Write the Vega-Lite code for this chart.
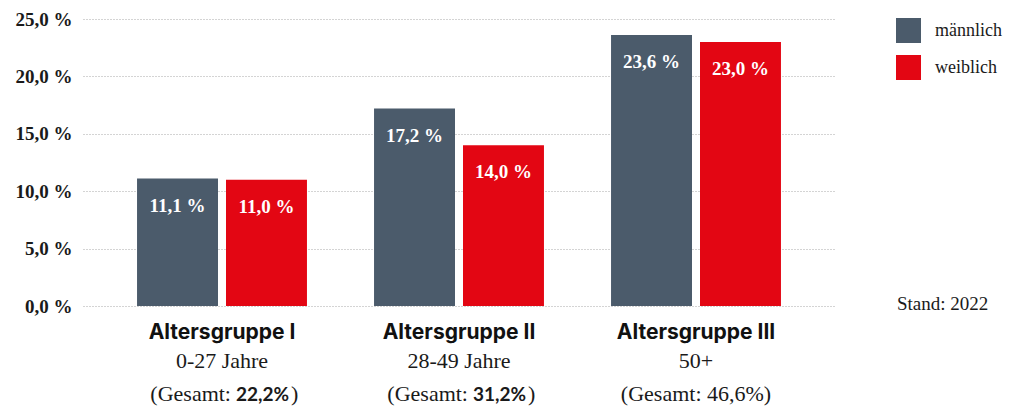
{
  "$schema": "https://vega.github.io/schema/vega-lite/v6.json",
  "width": 752,
  "height": 287,
  "autosize": "none",
  "padding": {"left": 83, "top": 19, "right": 183, "bottom": 105},
  "background": "white",
  "config": {
    "view": {"stroke": null},
    "font": "Liberation Serif"
  },
  "datasets": {
    "bars": [
      {"gruppe": "Altersgruppe I", "geschlecht": "männlich", "anteil": 11.1},
      {"gruppe": "Altersgruppe I", "geschlecht": "weiblich", "anteil": 11.0},
      {"gruppe": "Altersgruppe II", "geschlecht": "männlich", "anteil": 17.2},
      {"gruppe": "Altersgruppe II", "geschlecht": "weiblich", "anteil": 14.0},
      {"gruppe": "Altersgruppe III", "geschlecht": "männlich", "anteil": 23.6},
      {"gruppe": "Altersgruppe III", "geschlecht": "weiblich", "anteil": 23.0}
    ],
    "groups": [
      {"gruppe": "Altersgruppe I", "alter": "0-27 Jahre", "gesamt": "22,2%", "fett": true},
      {"gruppe": "Altersgruppe II", "alter": "28-49 Jahre", "gesamt": "31,2%", "fett": true},
      {"gruppe": "Altersgruppe III", "alter": "50+", "gesamt": "46,6%", "fett": false}
    ],
    "note": [
      {"gruppe": "Altersgruppe III", "text": "Stand: 2022"}
    ]
  },
  "layer": [
    {
      "data": {"name": "bars"},
      "mark": {"type": "bar"},
      "encoding": {
        "x": {
          "field": "gruppe", "type": "nominal", "sort": null,
          "scale": {"paddingInner": 0.283, "paddingOuter": 0.228},
          "axis": null
        },
        "xOffset": {
          "field": "geschlecht", "type": "nominal", "sort": null,
          "scale": {"paddingInner": 0.09, "paddingOuter": 0}
        },
        "y": {
          "field": "anteil", "type": "quantitative",
          "scale": {"domain": [0, 25], "nice": false},
          "axis": {
            "values": [0, 5, 10, 15, 20, 25],
            "labelExpr": "replace(format(datum.value, '.1f'), '.', ',') + ' %'",
            "grid": true,
            "gridDash": [1, 2],
            "gridColor": "#a8a8a8",
            "gridWidth": 1,
            "domain": false,
            "ticks": false,
            "title": null,
            "labelFont": "Liberation Serif",
            "labelFontWeight": "bold",
            "labelFontSize": 19,
            "labelColor": "#1a1a1a",
            "labelPadding": 11
          }
        },
        "color": {
          "field": "geschlecht", "type": "nominal",
          "scale": {"domain": ["männlich", "weiblich"], "range": ["#4b5b6b", "#e30613"]},
          "legend": {
            "orient": "none",
            "legendX": 813,
            "legendY": -1,
            "title": null,
            "symbolType": "square",
            "symbolSize": 625,
            "symbolStrokeWidth": 0,
            "symbolOpacity": 1,
            "labelFont": "Liberation Serif",
            "labelFontSize": 18,
            "labelColor": "#1a1a1a",
            "labelOffset": 14,
            "rowPadding": 12
          }
        }
      }
    },
    {
      "data": {"name": "bars"},
      "transform": [
        {"calculate": "replace(format(datum.anteil, '.1f'), '.', ',') + ' %'", "as": "label"}
      ],
      "mark": {
        "type": "text", "baseline": "alphabetic", "align": "center", "dy": 33,
        "font": "Liberation Serif", "fontWeight": "bold", "fontSize": 19, "color": "white"
      },
      "encoding": {
        "x": {"field": "gruppe", "type": "nominal", "sort": null},
        "xOffset": {"field": "geschlecht", "type": "nominal", "sort": null},
        "y": {"field": "anteil", "type": "quantitative"},
        "text": {"field": "label"}
      }
    },
    {
      "data": {"name": "groups"},
      "mark": {
        "type": "text", "baseline": "alphabetic", "align": "center", "dy": 33,
        "font": "Inter", "fontWeight": "bold", "fontSize": 21, "color": "#111111"
      },
      "encoding": {
        "x": {"field": "gruppe", "type": "nominal", "sort": null},
        "y": {"datum": 0},
        "text": {"field": "gruppe"}
      }
    },
    {
      "data": {"name": "groups"},
      "mark": {
        "type": "text", "baseline": "alphabetic", "align": "center", "dy": 62,
        "font": "Liberation Serif", "fontSize": 22, "color": "#1a1a1a"
      },
      "encoding": {
        "x": {"field": "gruppe", "type": "nominal", "sort": null},
        "y": {"datum": 0},
        "text": {"field": "alter"}
      }
    },
    {
      "data": {"name": "groups"},
      "transform": [
        {"filter": "!datum.fett"},
        {"calculate": "'(Gesamt: ' + datum.gesamt + ')'", "as": "zeile"}
      ],
      "mark": {
        "type": "text", "baseline": "alphabetic", "align": "center", "dy": 95,
        "font": "Liberation Serif", "fontSize": 22, "color": "#1a1a1a"
      },
      "encoding": {
        "x": {"field": "gruppe", "type": "nominal", "sort": null},
        "y": {"datum": 0},
        "text": {"field": "zeile"}
      }
    },
    {
      "data": {"name": "groups"},
      "transform": [{"filter": "datum.fett"}],
      "mark": {
        "type": "text", "baseline": "alphabetic", "align": "right", "dy": 95, "dx": 9,
        "font": "Liberation Serif", "fontSize": 22, "color": "#1a1a1a"
      },
      "encoding": {
        "x": {"field": "gruppe", "type": "nominal", "sort": null},
        "y": {"datum": 0},
        "text": {"value": "(Gesamt:"}
      }
    },
    {
      "data": {"name": "groups"},
      "transform": [{"filter": "datum.fett"}],
      "mark": {
        "type": "text", "baseline": "alphabetic", "align": "left", "dy": 95, "dx": 14,
        "font": "Lato", "fontWeight": "bold", "fontSize": 19, "color": "#1a1a1a"
      },
      "encoding": {
        "x": {"field": "gruppe", "type": "nominal", "sort": null},
        "y": {"datum": 0},
        "text": {"field": "gesamt"}
      }
    },
    {
      "data": {"name": "groups"},
      "transform": [{"filter": "datum.fett"}],
      "mark": {
        "type": "text", "baseline": "alphabetic", "align": "left", "dy": 95, "dx": 69,
        "font": "Liberation Serif", "fontSize": 22, "color": "#1a1a1a"
      },
      "encoding": {
        "x": {"field": "gruppe", "type": "nominal", "sort": null},
        "y": {"datum": 0},
        "text": {"value": ")"}
      }
    },
    {
      "data": {"name": "note"},
      "mark": {
        "type": "text", "baseline": "alphabetic", "align": "left", "dy": 4, "dx": 201,
        "font": "Liberation Serif", "fontSize": 19, "color": "#1a1a1a"
      },
      "encoding": {
        "x": {"field": "gruppe", "type": "nominal", "sort": null},
        "y": {"datum": 0},
        "text": {"field": "text"}
      }
    }
  ]
}
